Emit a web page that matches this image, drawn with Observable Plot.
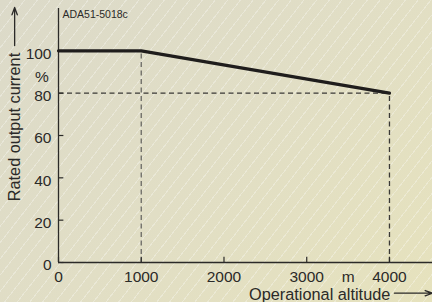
<!DOCTYPE html>
<html>
<head>
<meta charset="utf-8">
<script src="https://cdn.jsdelivr.net/npm/d3@7"></script>
<script src="https://cdn.jsdelivr.net/npm/@observablehq/plot@0.6"></script>
<style>
  html, body { margin: 0; padding: 0; }
  #chart {
    width: 432px; height: 302px; overflow: hidden;
    background:
      repeating-linear-gradient(128deg, rgba(255,255,255,0) 0px, rgba(255,255,255,0) 9px, rgba(255,255,255,0.3) 9px, rgba(255,255,255,0.3) 10px),
      linear-gradient(135deg, #dcdac9 0%, #e1dec5 50%, #e6e2bd 100%);
  }
</style>
</head>
<body>
<div id="chart"></div>
<script>
// Derating curve
const altitude = [0, 1000, 4000];
const current = [100, 100, 80];
// Ticks
const xTicks = [0, 1000, 2000, 3000, 4000];
const yTicks = [0, 20, 40, 60, 80, 100];
const xUnit = "m";
const yUnit = "%";
const code = "ADA51-5018c";
const xTitle = "Operational altitude";
const yTitle = "Rated output current";

const curve = altitude.map((a, i) => ({x: a, y: current[i]}));
// dashed guides derived from the knee points
const knee = curve[1], end = curve[2];
const hGuide = [{x1: 0, y1: end.y, x2: end.x, y2: end.y}];
const vGuides = [
  {x1: knee.x, y1: 0, x2: knee.x, y2: knee.y, c: "#6a6864"},
  {x1: end.x, y1: 0, x2: end.x, y2: end.y, c: "#3a3936"}
];

const font = "'Liberation Sans', Arial, Helvetica, sans-serif";
const ink = "#2b2a28";

const chart = Plot.plot({
  width: 432,
  height: 302,
  marginLeft: 58,
  marginRight: 0,
  marginTop: 8,
  marginBottom: 40,
  x: {domain: [0, 4520], axis: null},
  y: {domain: [0, 120], axis: null},
  style: {background: "transparent", fontFamily: font, color: ink, overflow: "visible"},
  marks: [
    // dashed guides
    Plot.link(hGuide, {x1: "x1", y1: "y1", x2: "x2", y2: "y2", stroke: "#3a3936", strokeWidth: 1.3, strokeDasharray: "5,3.5"}),
    Plot.link(vGuides, {x1: "x1", y1: "y1", x2: "x2", y2: "y2", stroke: d => d.c, strokeWidth: 1.3, strokeDasharray: "5,3.5"}),
    // axes lines
    Plot.ruleX([0], {y1: 0, y2: 120, stroke: ink, strokeWidth: 1.3}),
    Plot.ruleY([0], {x1: 0, x2: 4520, stroke: ink, strokeWidth: 1.3}),
    // tick marks
    Plot.ruleY(yTicks, {y: d => d, x1: 0, x2: 65, stroke: ink, strokeWidth: 1.2}),
    Plot.ruleX(xTicks, {x: d => d, y1: 0, y2: 2.5, stroke: ink, strokeWidth: 1.2}),
    // curve
    Plot.line(curve, {x: "x", y: "y", stroke: "#1f1d1c", strokeWidth: 3.2, strokeLinejoin: "miter"}),
    // y tick labels
    Plot.text(yTicks, {x: 0, y: d => d, text: d => String(d), dx: -7, dy: 3, textAnchor: "end", fontSize: 15.5, fill: ink}),
    Plot.text([yUnit], {x: 0, y: 87.7, text: d => d, dx: -16.5, textAnchor: "middle", fontSize: 15.5, fill: ink}),
    // x tick labels
    Plot.text(xTicks, {x: d => d, y: -6.8, text: d => String(d), textAnchor: "middle", fontSize: 15.5, fill: ink}),
    Plot.text([xUnit], {x: 3500, y: -6.8, text: d => d, textAnchor: "middle", fontSize: 15.5, fill: ink}),
    // code label
    Plot.text([code], {x: 0, y: 117, text: d => d, dx: 4, textAnchor: "start", fontSize: 10.5, fill: ink}),
    // x title and arrow
    Plot.text([xTitle], {x: 4010, y: -15.2, text: d => d, textAnchor: "end", fontSize: 16.3, fill: ink}),
    Plot.arrow([{x1: 4060, x2: 4520, y: -14.5}], {x1: "x1", x2: "x2", y1: "y", y2: "y", stroke: ink, strokeWidth: 1.3, headLength: 9, headAngle: 40}),
    // y title and arrow
    Plot.text([yTitle], {x: -530, y: 64, text: d => d, rotate: -90, textAnchor: "middle", fontSize: 16.3, fill: ink}),
    Plot.arrow([{x: -530, y1: 102.5, y2: 120.5}], {x1: "x", x2: "x", y1: "y1", y2: "y2", stroke: ink, strokeWidth: 1.3, headLength: 9, headAngle: 40})
  ]
});
document.getElementById("chart").appendChild(chart);
</script>
</body>
</html>
